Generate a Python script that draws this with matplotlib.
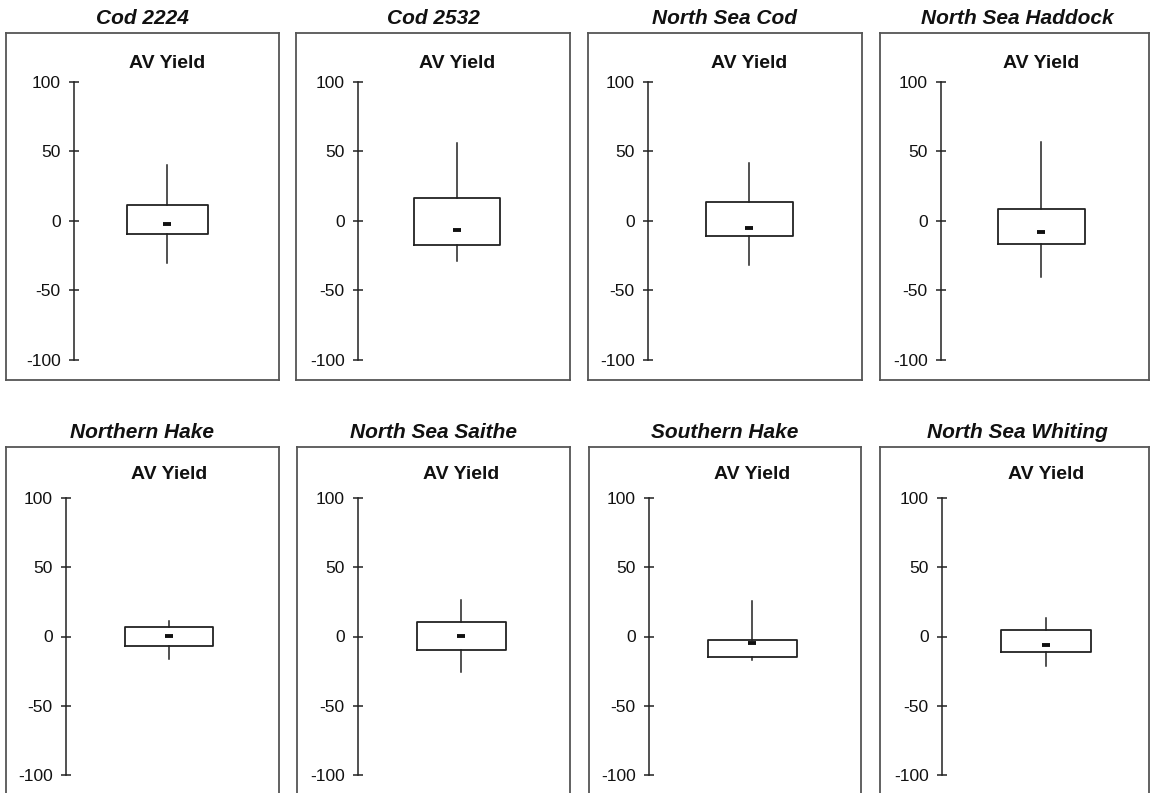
import matplotlib.pyplot as plt

# figure size in pixels
W, H = 1151, 793

stocks = ["Cod 2224", "Cod 2532", "North Sea Cod", "North Sea Haddock",
          "Northern Hake", "North Sea Saithe", "Southern Hake", "North Sea Whiting"]
whisker_low = [-30, -29, -31.5, -40, -16.5, -25.5, -17, -21.5]
q1 = [-9.5, -17, -11, -16.5, -7, -9.5, -14.5, -11.5]
medians = [-2, -6.5, -5, -8, 0.7, 0.7, -5, -6]
q3 = [11.5, 16.5, 14, 8.5, 6.5, 10.5, -2.5, 4.5]
whisker_high = [40, 56, 42, 57, 11, 26, 25.5, 13.5]
yticks = [-100, -50, 0, 50, 100]
panel_label = "AV Yield"

# layout (pixels)
frame_left = [6, 296, 588, 880, 6, 297, 589, 880]
frame_right = [279, 570, 862, 1149, 279, 570, 861, 1149]
frame_top = [33, 447]
frame_h = 347
axis_x = [74, 358, 648, 941, 66, 358, 649, 942]
box_dx = [93, 99, 101, 100, 103, 103, 103, 104]
box_w = [81, 86, 87, 87, 88, 89, 89, 90]
y100 = [82, 498]
ym100 = [360, 775]
title_base = [24, 438]
label_base = [68, 479]

plt.rcParams['font.family'] = ['Liberation Sans', 'DejaVu Sans']
plt.rcParams['axes.unicode_minus'] = False
EDGE = '#222222'

fig = plt.figure(figsize=(W / 100, H / 100), dpi=100)
fig.patch.set_facecolor('white')


def px_rect(x0, y0, x1, y1):
    # pixel box (top-left origin) -> figure fraction [l, b, w, h]
    return [x0 / W, 1 - y1 / H, (x1 - x0) / W, (y1 - y0) / H]


for i, name in enumerate(stocks):
    row = i // 4
    top = frame_top[row]

    # panel frame
    fr = fig.add_axes(px_rect(frame_left[i], top, frame_right[i], top + frame_h))
    fr.set_xticks([])
    fr.set_yticks([])
    for sp in fr.spines.values():
        sp.set_color('#555555')
        sp.set_linewidth(1.3)
    fr.set_facecolor('white')

    # data axes
    ax = fig.add_axes(px_rect(axis_x[i], y100[row], axis_x[i] + 200, ym100[row]))
    ax.set_facecolor('none')
    ax.set_xlim(0, 200)
    ax.set_ylim(-100, 100)
    for s in ['top', 'right', 'bottom']:
        ax.spines[s].set_visible(False)
    ax.spines['left'].set_color(EDGE)
    ax.spines['left'].set_linewidth(1.1)
    ax.set_xticks([])
    ax.set_yticks(yticks)
    ax.tick_params(axis='y', direction='inout', length=7, width=1.1, color=EDGE,
                   pad=6, labelsize=12.5, labelcolor='#111111')

    stats = [{'med': medians[i], 'q1': q1[i], 'q3': q3[i],
              'whislo': whisker_low[i], 'whishi': whisker_high[i], 'fliers': []}]
    ax.bxp(stats, positions=[box_dx[i]], widths=[box_w[i]], showcaps=False,
           showfliers=False, manage_ticks=False,
           boxprops=dict(color=EDGE, linewidth=1.3),
           whiskerprops=dict(color=EDGE, linewidth=1.1),
           medianprops=dict(linewidth=0))
    ax.plot([box_dx[i]], [medians[i]], marker='_', markersize=5.5, mew=2.8,
            color='#111111', clip_on=False)

    cx = (frame_left[i] + frame_right[i]) / 2
    if i == 3 or i == 7:
        cx = (frame_left[i] + frame_left[i] + 274) / 2
    fig.text(cx / W, 1 - title_base[row] / H, name, ha='center', va='baseline',
             fontsize=15, fontweight='bold', fontstyle='italic', color='#111111')
    fig.text((axis_x[i] + box_dx[i]) / W, 1 - label_base[row] / H, panel_label,
             ha='center', va='baseline', fontsize=14, fontweight='bold',
             color='#111111')

fig.savefig('out.png', dpi=100, facecolor='white')
